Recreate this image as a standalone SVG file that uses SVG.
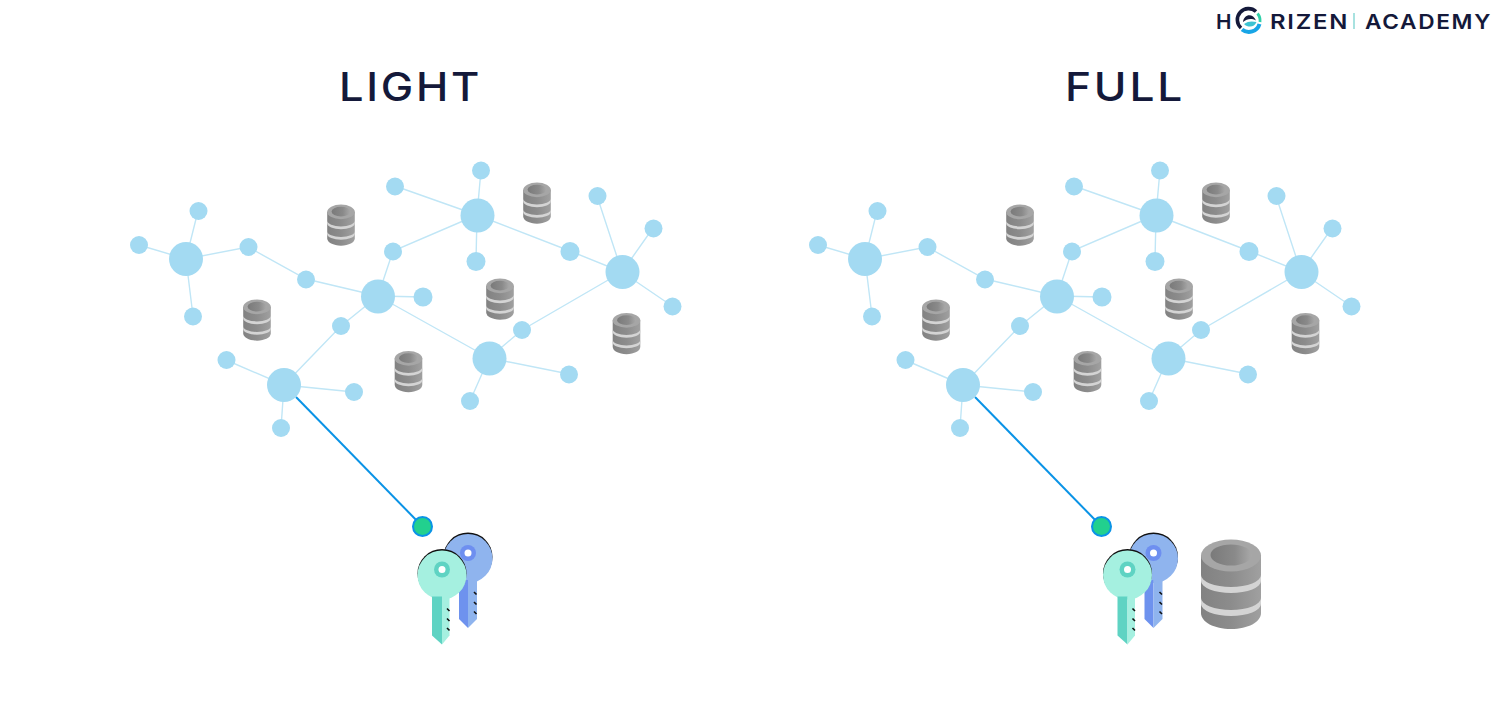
<svg xmlns="http://www.w3.org/2000/svg" width="1500" height="725" viewBox="0 0 1500 725">
<style>
.t{font-family:"Inter","Liberation Sans",sans-serif;fill:#14193a}
.title{font-size:40px;font-weight:500;letter-spacing:2.500px}
.logo{font-size:20.500px;font-weight:600;letter-spacing:1.500px}
.e{stroke:#c0e6f6;stroke-width:1.400;fill:none}
.big{fill:#a3daf2}
.small{fill:#a3daf2}
.link{stroke:#0a93e6;stroke-width:2;fill:none}
.end{fill:#22d08e;stroke:#0a93e6;stroke-width:2}
</style>
<defs>
<linearGradient id="side" x1="0" x2="1" y1="0" y2="0"><stop offset="0" stop-color="#828282"/><stop offset=".5" stop-color="#8c8c8c"/><stop offset="1" stop-color="#a0a0a0"/></linearGradient>
<linearGradient id="hole" x1="0" x2="1" y1="0" y2="0"><stop offset="0" stop-color="#7a7a7a"/><stop offset=".6" stop-color="#8a8a8a"/><stop offset="1" stop-color="#a8a8a8"/></linearGradient>
<g id="db">
<path d="M-30-29V29C-30 38-17 45 0 45S30 38 30 29V-29Z" fill="url(#side)"/>
<path d="M-30-9A30 12 0 0 0 30-9V-3A30 12 0 0 1-30-3Z" fill="#d4d4d4"/>
<path d="M-30 14A30 12 0 0 0 30 14V20A30 12 0 0 1-30 20Z" fill="#d4d4d4"/>
<ellipse cx="0" cy="-28.500" rx="30" ry="16" fill="#a6a6a6"/>
<ellipse cx="0" cy="-29" rx="20.500" ry="10.500" fill="url(#hole)"/>
</g>
<g id="key-green">
<circle cx="0" cy="4" r="24.500" fill="#111"/>
<circle cx="0" cy="5.500" r="24.500" fill="#a5f0e0"/>
<path d="M-10 27H0V75L-10 66Z" fill="#5fd3c3"/>
<path d="M0 27H7.500V66L0 75Z" fill="#a5f0e0"/>
<path d="M5 39l2.500 2.500M5 49l2.500 2.500M5 58.500l2.500 2.500" stroke="#111" stroke-width="1.600" fill="none"/>
<circle cx="0" cy="0" r="8" fill="#5fd3c3"/>
<circle cx="0" cy="0" r="3.500" fill="#fff"/>
</g>
<g id="key-blue">
<circle cx="0" cy="4" r="24.500" fill="#111"/>
<circle cx="0" cy="5.500" r="24.500" fill="#8fb4ee"/>
<path d="M-9 27H0V75L-9 66Z" fill="#6e92ee"/>
<path d="M0 27H9V66L0 75Z" fill="#8fb4ee"/>
<path d="M6 39l2.500 2.500M6 49l2.500 2.500M6 58.500l2.500 2.500" stroke="#111" stroke-width="1.600" fill="none"/>
<circle cx="0" cy="0" r="8" fill="#6e8ff0"/>
<circle cx="0" cy="0" r="3.500" fill="#fff"/>
</g>
</defs>
<rect width="1500" height="725" fill="#fff"/>

<g id="logo">
<text class="t logo" x="1216" y="28.500" textLength="17" lengthAdjust="spacingAndGlyphs">H</text>
<g id="logo-mark">
<path d="M1241 28A11 11 0 0 1 1256 11.500" fill="none" stroke="#14193a" stroke-width="3.600"/>
<path d="M1257.500 13.500A11 11 0 0 1 1260 22" fill="none" stroke="#2fd0a8" stroke-width="2.800"/>
<path d="M1259.500 24A11 11 0 0 1 1242 29.500" fill="none" stroke="#17a5e6" stroke-width="4"/>
<path d="M1243 22C1244 13.500 1253 13 1256 20.500C1251 18 1247 19 1243 22Z" fill="#14193a"/>
<path d="M1244 24C1248 21 1252 21 1256.500 22C1254.500 27.500 1248 28 1244 24Z" fill="#3cc3d2"/>
</g>
<text class="t logo" x="1270" y="28.500" textLength="79" lengthAdjust="spacingAndGlyphs">RIZEN</text>
<rect x="1353.400" y="13" width="1.200" height="16" fill="#6fd0cc"/>
<text class="t logo" x="1365" y="28.500" textLength="127" lengthAdjust="spacingAndGlyphs">ACADEMY</text>
</g>

<text id="title-light" class="t title" x="339" y="101" textLength="143" lengthAdjust="spacingAndGlyphs">LIGHT</text>
<text id="title-full" class="t title" x="1065" y="101" textLength="120" lengthAdjust="spacingAndGlyphs">FULL</text>

<g id="connectors">
<g id="connectors-light">
<path class="e" d="M186 259L139 245M186 259L198 211M186 259L193 316M186 259L248 247L306 279L378 296M378 296L393 251L477 215M477 215L395 186M477 215L481 170M477 215L476 261M477 215L570 251L622 272M622 272L597 196M622 272L653 228M622 272L672 306M622 272L522 330L489 358M378 296L423 297M378 296L489 358M378 296L341 326L284 385M284 385L226 360M284 385L354 392M284 385L281 428M489 358L569 374M489 358L470 401"/>
<path class="link" d="M296 397L422.500 526.500"/>
</g>
<g id="connectors-full">
<path class="e" d="M865 259L818 245M865 259L877 211M865 259L872 316M865 259L927 247L985 279L1057 296M1057 296L1072 251L1156 215M1156 215L1074 186M1156 215L1160 170M1156 215L1155 261M1156 215L1249 251L1301 272M1301 272L1276 196M1301 272L1332 228M1301 272L1351 306M1301 272L1201 330L1168 358M1057 296L1102 297M1057 296L1168 358M1057 296L1020 326L963 385M963 385L905 360M963 385L1033 392M963 385L960 428M1168 358L1248 374M1168 358L1149 401"/>
<path class="link" d="M975 397L1101.500 526.500"/>
</g>
</g>

<g id="light-network">
<g id="l-a"><circle class="big" cx="186" cy="259" r="17"/></g>
<g id="l-b"><circle class="big" cx="477.500" cy="215.500" r="17"/></g>
<g id="l-c"><circle class="big" cx="622.500" cy="272" r="17"/></g>
<g id="l-d"><circle class="big" cx="378" cy="296.500" r="17"/></g>
<g id="l-e"><circle class="big" cx="489.500" cy="358.500" r="17"/></g>
<g id="l-f"><circle class="big" cx="284" cy="385" r="17"/></g>
<g id="l-a1"><circle class="small" cx="139" cy="245" r="9"/></g>
<g id="l-a2"><circle class="small" cx="198.500" cy="211" r="9"/></g>
<g id="l-a3"><circle class="small" cx="193" cy="316.500" r="9"/></g>
<g id="l-b1"><circle class="small" cx="395" cy="186.500" r="9"/></g>
<g id="l-b2"><circle class="small" cx="481" cy="170.500" r="9"/></g>
<g id="l-b3"><circle class="small" cx="476" cy="261.500" r="9.500"/></g>
<g id="l-b4"><circle class="small" cx="393" cy="251.500" r="9"/></g>
<g id="l-b5"><circle class="small" cx="570" cy="251.500" r="9.500"/></g>
<g id="l-c1"><circle class="small" cx="597.500" cy="196" r="9"/></g>
<g id="l-c2"><circle class="small" cx="653.500" cy="228.500" r="9"/></g>
<g id="l-c3"><circle class="small" cx="672.500" cy="306.500" r="9"/></g>
<g id="l-d1"><circle class="small" cx="248.500" cy="247" r="9"/></g>
<g id="l-d2"><circle class="small" cx="306" cy="279.500" r="9"/></g>
<g id="l-d3"><circle class="small" cx="423" cy="297" r="9.500"/></g>
<g id="l-d4"><circle class="small" cx="341" cy="326" r="9"/></g>
<g id="l-e1"><circle class="small" cx="522" cy="330" r="9"/></g>
<g id="l-e2"><circle class="small" cx="569" cy="374.500" r="9"/></g>
<g id="l-e3"><circle class="small" cx="470" cy="401" r="9"/></g>
<g id="l-f1"><circle class="small" cx="226.500" cy="360" r="9"/></g>
<g id="l-f2"><circle class="small" cx="354" cy="392" r="9"/></g>
<g id="l-f3"><circle class="small" cx="281" cy="428" r="9"/></g>
<g id="l-db1"><use href="#db" transform="translate(341,225) scale(.46)"/></g>
<g id="l-db2"><use href="#db" transform="translate(537,203) scale(.46)"/></g>
<g id="l-db3"><use href="#db" transform="translate(500,299) scale(.46)"/></g>
<g id="l-db4"><use href="#db" transform="translate(257,320) scale(.46)"/></g>
<g id="l-db5"><use href="#db" transform="translate(408.500,371.500) scale(.46)"/></g>
<g id="l-db6"><use href="#db" transform="translate(626.500,333.500) scale(.46)"/></g>
<g id="l-end"><circle class="end" cx="422.500" cy="526.500" r="9.500"/></g>
<g id="l-key-blue"><use href="#key-blue" x="468" y="553"/></g>
<g id="l-key-green"><use href="#key-green" x="442" y="569.500"/></g>
</g>

<g id="full-network">
<g id="f-a"><circle class="big" cx="865" cy="259" r="17"/></g>
<g id="f-b"><circle class="big" cx="1156.500" cy="215.500" r="17"/></g>
<g id="f-c"><circle class="big" cx="1301.500" cy="272" r="17"/></g>
<g id="f-d"><circle class="big" cx="1057" cy="296.500" r="17"/></g>
<g id="f-e"><circle class="big" cx="1168.500" cy="358.500" r="17"/></g>
<g id="f-f"><circle class="big" cx="963" cy="385" r="17"/></g>
<g id="f-a1"><circle class="small" cx="818" cy="245" r="9"/></g>
<g id="f-a2"><circle class="small" cx="877.500" cy="211" r="9"/></g>
<g id="f-a3"><circle class="small" cx="872" cy="316.500" r="9"/></g>
<g id="f-b1"><circle class="small" cx="1074" cy="186.500" r="9"/></g>
<g id="f-b2"><circle class="small" cx="1160" cy="170.500" r="9"/></g>
<g id="f-b3"><circle class="small" cx="1155" cy="261.500" r="9.500"/></g>
<g id="f-b4"><circle class="small" cx="1072" cy="251.500" r="9"/></g>
<g id="f-b5"><circle class="small" cx="1249" cy="251.500" r="9.500"/></g>
<g id="f-c1"><circle class="small" cx="1276.500" cy="196" r="9"/></g>
<g id="f-c2"><circle class="small" cx="1332.500" cy="228.500" r="9"/></g>
<g id="f-c3"><circle class="small" cx="1351.500" cy="306.500" r="9"/></g>
<g id="f-d1"><circle class="small" cx="927.500" cy="247" r="9"/></g>
<g id="f-d2"><circle class="small" cx="985" cy="279.500" r="9"/></g>
<g id="f-d3"><circle class="small" cx="1102" cy="297" r="9.500"/></g>
<g id="f-d4"><circle class="small" cx="1020" cy="326" r="9"/></g>
<g id="f-e1"><circle class="small" cx="1201" cy="330" r="9"/></g>
<g id="f-e2"><circle class="small" cx="1248" cy="374.500" r="9"/></g>
<g id="f-e3"><circle class="small" cx="1149" cy="401" r="9"/></g>
<g id="f-f1"><circle class="small" cx="905.500" cy="360" r="9"/></g>
<g id="f-f2"><circle class="small" cx="1033" cy="392" r="9"/></g>
<g id="f-f3"><circle class="small" cx="960" cy="428" r="9"/></g>
<g id="f-db1"><use href="#db" transform="translate(1020,225) scale(.46)"/></g>
<g id="f-db2"><use href="#db" transform="translate(1216,203) scale(.46)"/></g>
<g id="f-db3"><use href="#db" transform="translate(1179,299) scale(.46)"/></g>
<g id="f-db4"><use href="#db" transform="translate(936,320) scale(.46)"/></g>
<g id="f-db5"><use href="#db" transform="translate(1087.500,371.500) scale(.46)"/></g>
<g id="f-db6"><use href="#db" transform="translate(1305.500,333.500) scale(.46)"/></g>
<g id="f-end"><circle class="end" cx="1101.500" cy="526.500" r="9.500"/></g>
<g id="f-key-blue"><use href="#key-blue" x="1153.500" y="553"/></g>
<g id="f-key-green"><use href="#key-green" x="1127.500" y="569.500"/></g>
<g id="f-db-large"><use href="#db" transform="translate(1231,584)"/></g>
</g>
</svg>
